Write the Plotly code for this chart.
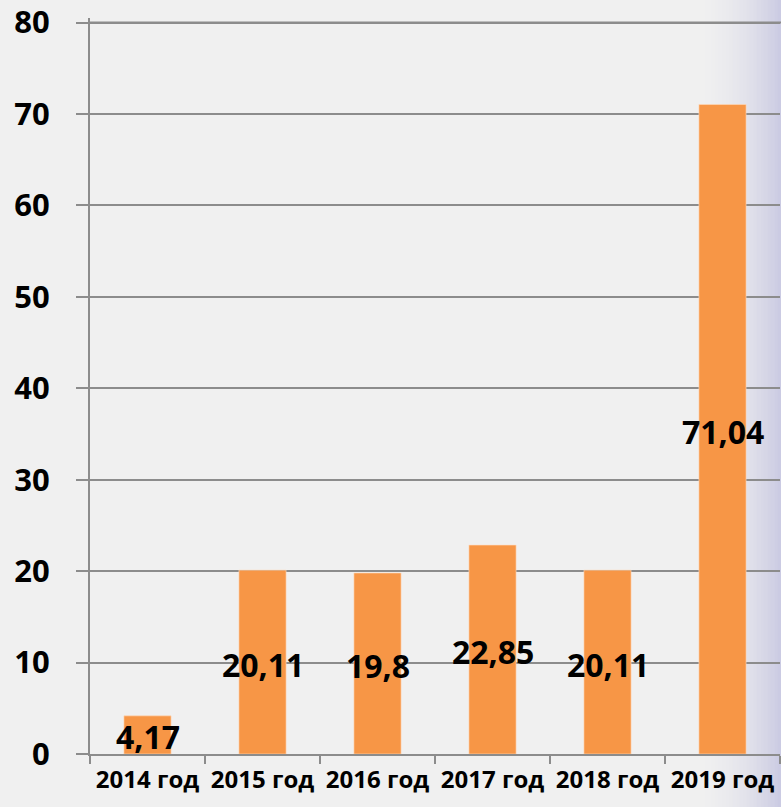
import plotly.graph_objects as go

categories = ["2014 год", "2015 год", "2016 год", "2017 год", "2018 год", "2019 год"]
values = [4.17, 20.11, 19.8, 22.85, 20.11, 71.04]
value_labels = ["4,17", "20,11", "19,8", "22,85", "20,11", "71,04"]
y_ticks = [0, 10, 20, 30, 40, 50, 60, 70, 80]

FONT = "Open Sans"
GRID = "#8C8C8C"
BG = "#F0F0F0"

fig = go.Figure()
fig.add_trace(go.Bar(
    x=categories, y=values,
    marker=dict(color="#F79646", line=dict(color="rgba(255,220,190,0.6)", width=1)),
    hoverinfo="skip", showlegend=False,
))

# value labels centred on each bar
for cat, val, lab in zip(categories, values, value_labels):
    fig.add_annotation(
        x=cat, y=val / 2, text=lab, showarrow=False, yshift=-2,
        font=dict(family=FONT, size=32, color="#000000", weight="bold"),
    )

# decorative background gradient on the right edge
shapes = []
n = 24
plot_l, plot_r = 90, 780
x0_px, x1_px = 698, 781
for i in range(n):
    a = x0_px + (x1_px - x0_px) * i / n
    b = x0_px + (x1_px - x0_px) * (i + 1) / n
    t = ((i + 0.5) / n) ** 1.8
    r = round(240 - (240 - 202) * t)
    g = round(240 - (240 - 202) * t)
    bl = round(240 - (240 - 226) * t)
    shapes.append(dict(
        type="rect", xref="paper", yref="paper",
        x0=(a - plot_l) / (plot_r - plot_l), x1=(b - plot_l + 0.5) / (plot_r - plot_l),
        y0=-0.08, y1=1.03, line=dict(width=0),
        fillcolor=f"rgb({r},{g},{bl})", layer="below",
    ))
# top gridline (plotly drops it near the range edge)
shapes.append(dict(
    type="line", xref="paper", yref="y", x0=0, x1=1.002,
    y0=y_ticks[-1], y1=y_ticks[-1], line=dict(color=GRID, width=2), layer="between",
))

fig.update_layout(
    template="none",
    width=781, height=807,
    margin=dict(l=90, r=1, t=18, b=53),
    paper_bgcolor=BG, plot_bgcolor="rgba(0,0,0,0)",
    bargap=0.59,
    shapes=shapes,
    font=dict(family=FONT, color="#000000"),
)
fig.update_xaxes(
    type="category", showline=True, linecolor=GRID, linewidth=2,
    ticks="outside", tickson="boundaries", ticklen=8, tickcolor=GRID, tickwidth=2,
    tickfont=dict(family=FONT, size=24, color="#000000", weight="bold"),
    tickangle=0, showgrid=False, automargin=False, ticklabelstandoff=3,
    ticklabeloverflow="allow",
)
fig.update_yaxes(
    range=[0, 80.5], tickvals=y_ticks, ticktext=[str(v) for v in y_ticks],
    showline=True, linecolor=GRID, linewidth=2,
    ticks="outside", ticklen=12, tickcolor=GRID, tickwidth=2,
    showgrid=True, gridcolor=GRID, gridwidth=2, zeroline=False,
    tickfont=dict(family=FONT, size=31, color="#000000", weight="bold"),
    ticklabelstandoff=20, automargin=False, ticklabeloverflow="allow",
)

fig.write_html(
    "out.html",
    config={"displayModeBar": False},
    post_script=(
        "document.body.style.margin='0';"
        "document.body.style.overflow='hidden';"
        "document.body.style.background='%s';" % BG
    ),
)
